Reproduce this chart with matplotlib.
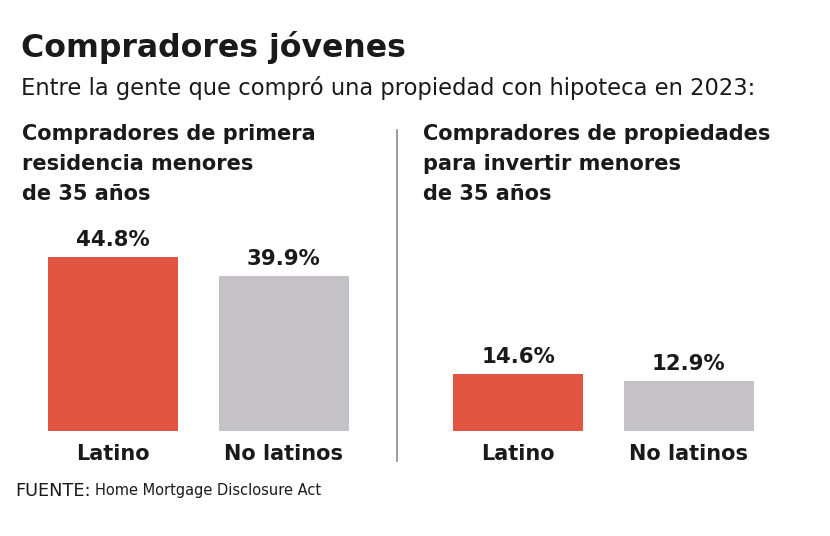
import matplotlib.pyplot as plt

categories = ["Latino", "No latinos"]
primera = [44.8, 39.9]
inversion = [14.6, 12.9]
panel_titles = [
    "Compradores de primera\nresidencia menores\nde 35 años",
    "Compradores de propiedades\npara invertir menores\nde 35 años",
]
colors = ["#E05441", "#C5C2C7"]

W, H = 830, 536
plt.rcParams["font.family"] = ["DejaVu Sans"]
fig = plt.figure(figsize=(W / 100, H / 100), dpi=100)


def fx(px):
    return px / W


def fy(py):
    return 1 - py / H


fig.text(fx(21), fy(47), "Compradores jóvenes", fontsize=22.7, fontweight="bold",
         color="#1a1a1a", va="center")
fig.text(fx(21), fy(88), "Entre la gente que compró una propiedad con hipoteca en 2023:",
         fontsize=16.3, color="#1a1a1a", va="center")

bar_w = 130 / 170
ymax = 50
axes_h = ymax * 3.884
for left, title_x, vals, title in [(48, 22, primera, panel_titles[0]),
                                   (453, 423, inversion, panel_titles[1])]:
    ax = fig.add_axes([fx(left), fy(431), fx(301), axes_h / H])
    ax.bar(range(len(vals)), vals, width=bar_w, color=colors)
    ax.set_xlim(-bar_w / 2, 1 + bar_w / 2)
    ax.set_ylim(0, ymax)
    ax.axis("off")
    for i, v in enumerate(vals):
        ax.annotate(f"{v}%", (i, v), xytext=(0, 5), textcoords="offset points",
                    ha="center", va="bottom", fontsize=15.3, fontweight="bold",
                    color="#1a1a1a")
        ax.annotate(categories[i], (i, 0), xytext=(0, -9), textcoords="offset points",
                    ha="center", va="top", fontsize=15, fontweight="bold",
                    color="#1a1a1a")
    fig.text(fx(title_x), fy(124), title, fontsize=15, fontweight="bold",
             color="#1a1a1a", va="top", linespacing=1.62)

fig.add_artist(plt.Line2D([fx(397), fx(397)], [fy(130), fy(461)],
                          color="#8a8a8a", lw=1.2))

src = fig.text(fx(15), fy(491), "FUENTE:", fontsize=12.8, color="#1a1a1a", va="center")
ax.annotate("Home Mortgage Disclosure Act", xy=(1, 0.5), xycoords=src,
            xytext=(3, 0), textcoords="offset points", va="center", fontsize=10.5,
            color="#1a1a1a", annotation_clip=False)

fig.savefig("out.png", dpi=100, facecolor="white")
